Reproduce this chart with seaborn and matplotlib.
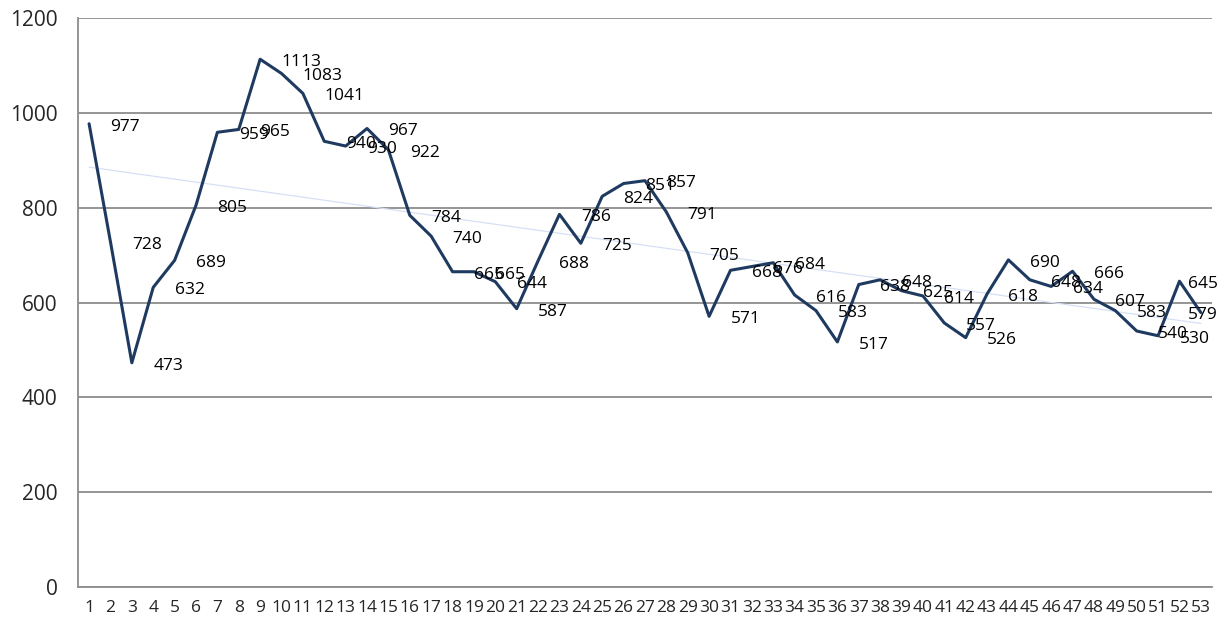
import numpy as np
import pandas as pd
import seaborn as sns
import matplotlib.pyplot as plt

# 53 periods and their values
weeks = list(range(1, 54))
values = [977, 728, 473, 632, 689, 805, 959, 965, 1113, 1083,
          1041, 940, 930, 967, 922, 784, 740, 665, 665, 644,
          587, 688, 786, 725, 824, 851, 857, 791, 705, 571,
          668, 676, 684, 616, 583, 517, 638, 648, 625, 614,
          557, 526, 618, 690, 648, 634, 666, 607, 583, 540,
          530, 645, 579]
y_ticks = [0, 200, 400, 600, 800, 1000, 1200]

df = pd.DataFrame({"week": weeks, "value": values})

sns.set_style("white")
plt.rcParams['font.family'] = ['Open Sans', 'DejaVu Sans']

fig, ax = plt.subplots(figsize=(12.25, 6.2), dpi=100)
fig.subplots_adjust(left=0.064, right=0.989, top=0.971, bottom=0.053)

# linear trend, fitted from the data
k, b = np.polyfit(df["week"], df["value"], 1)
df["trend"] = k * df["week"] + b
sns.lineplot(data=df, x="week", y="trend", ax=ax, color="#d6e0f5", linewidth=0.9)

sns.lineplot(data=df, x="week", y="value", ax=ax, color="#1f3a60", linewidth=2.2)

# value labels, one step right of each point, kept inside the chart at the right end
for w, v in zip(weeks, values):
    xl = min(w + 1.0, 52.4)
    ax.annotate(str(v), (xl, v), xytext=(0, -2), textcoords="offset points",
                fontsize=12.5, va="center", ha="left", color="black")

ax.set_xlim(0.5, 53.5)
ax.set_ylim(0, 1200)
ax.set_yticks(y_ticks)
ax.set_yticklabels([str(t) for t in y_ticks], fontsize=15)
ax.set_xticks(weeks)
ax.set_xticklabels([str(w) for w in weeks], fontsize=12.5)
ax.xaxis.set_minor_locator(plt.FixedLocator(np.arange(0.5, 54, 1)))
ax.tick_params(axis='x', which='major', length=0, pad=9)
ax.tick_params(axis='x', which='minor', length=5, color="#888888", width=1.2)
ax.tick_params(axis='y', length=6, color="#888888", width=1.2, pad=9)
ax.grid(axis='y', color="#8c8c8c", linewidth=1.3)
ax.set_axisbelow(True)
ax.set_xlabel("")
ax.set_ylabel("")
for s in ["top", "right"]:
    ax.spines[s].set_visible(False)
for s in ["left", "bottom"]:
    ax.spines[s].set_color("#8c8c8c")
    ax.spines[s].set_linewidth(1.3)

plt.savefig("out.png", dpi=100)
